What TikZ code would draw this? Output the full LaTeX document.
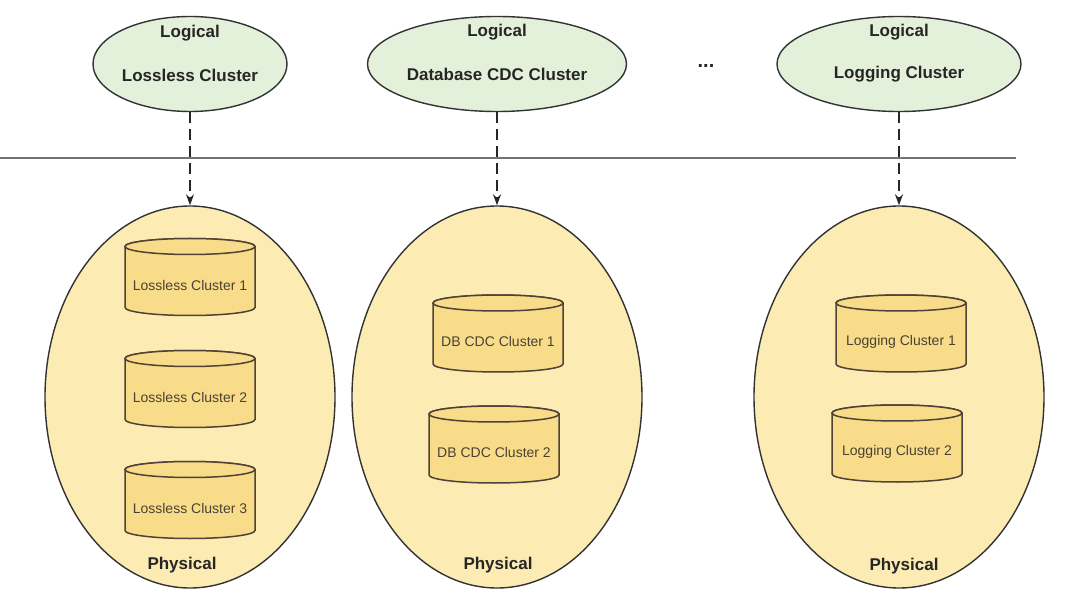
\documentclass[tikz,border=0pt]{standalone}
\usepackage{fontspec}
\setmainfont{Liberation Sans}
\usetikzlibrary{shapes.geometric,arrows.meta}
\definecolor{logfill}{HTML}{E3F0DA}
\definecolor{phyfill}{HTML}{FCEBB2}
\definecolor{cylfill}{HTML}{F8DC8A}
\definecolor{edge}{HTML}{333333}
\definecolor{cyltxt}{HTML}{4A4233}
\tikzset{
  logical/.style={ellipse, draw=edge, line width=1.4pt, fill=logfill, inner sep=0pt},
  physical/.style={ellipse, draw=edge, line width=1.4pt, fill=phyfill, inner sep=0pt, minimum width=290pt, minimum height=382pt},
  boldlbl/.style={font=\fontsize{17pt}{20pt}\selectfont\bfseries, text=black!85},
  cylbody/.style={fill=cylfill, draw=edge!80!brown, line width=1.5pt},
  cyltext/.style={font=\fontsize{14pt}{16pt}\selectfont, text=cyltxt, inner sep=0pt},
  dasharrow/.style={draw=black!85, line width=1.3pt, dash pattern=on 11pt off 6pt, -{Stealth[length=11pt,width=8pt]}},
}
\newcommand\mycyl[4]{% name, center x, center y, text
  \filldraw[cylbody] (#2-65,#3+30.5) -- (#2-65,#3-30.5)
    arc[start angle=180,end angle=360,x radius=65,y radius=8]
    -- (#2+65,#3+30.5)
    arc[start angle=0,end angle=180,x radius=65,y radius=8] -- cycle;
  \draw[cylbody] (#2,#3+30.5) ellipse[x radius=65,y radius=8];
  \node[cyltext] (#1) at (#2,#3-8) {#4};
}
\begin{document}
\begin{tikzpicture}[x=1pt,y=1pt]
\useasboundingbox (0,0) rectangle (1082,-612);
\fill[white] (0,0) rectangle (1082,-612);

% separator line
\coordinate (sepL) at (0,-158);
\coordinate (sepR) at (1016,-158);
\draw[line width=1.1pt, draw=black!55] (sepL) -- (sepR);

% logical ellipses
\node[logical, minimum width=194pt, minimum height=95pt] (lg1) at (190,-64) {};
\node[logical, minimum width=259pt, minimum height=95pt] (lg2) at (497,-64) {};
\node[logical, minimum width=244pt, minimum height=95pt] (lg3) at (899,-64) {};
\node[boldlbl] (lg1a) at (190,-33) {Logical};
\node[boldlbl] (lg1b) at (190,-75) {Lossless Cluster};
\node[boldlbl] (lg2a) at (497,-32) {Logical};
\node[boldlbl] (lg2b) at (497,-74) {Database CDC Cluster};
\node[boldlbl] (lg3a) at (899,-32) {Logical};
\node[boldlbl] (lg3b) at (899,-74) {Logging Cluster};
\node[font=\fontsize{20pt}{22pt}\selectfont\bfseries, text=black!85] (dots) at (706,-66) {...};

% physical ellipses
\node[physical] (ph1) at (190,-397) {};
\node[physical] (ph2) at (497,-397) {};
\node[physical] (ph3) at (899,-397) {};

% cylinders
\mycyl{c11}{190}{-277}{Lossless Cluster 1}
\mycyl{c12}{190}{-389}{Lossless Cluster 2}
\mycyl{c13}{190}{-500}{Lossless Cluster 3}
\mycyl{c21}{498}{-333.5}{DB CDC Cluster 1}
\mycyl{c22}{494}{-444.5}{DB CDC Cluster 2}
\mycyl{c31}{901}{-333.5}{Logging Cluster 1}
\mycyl{c32}{897}{-443.5}{Logging Cluster 2}

% physical labels
\node[boldlbl] (p1) at (182,-565) {Physical};
\node[boldlbl] (p2) at (498,-565) {Physical};
\node[boldlbl] (p3) at (904,-566) {Physical};

% arrows
\draw[dasharrow] (lg1.south) -- (ph1.north);
\draw[dasharrow] (lg2.south) -- (ph2.north);
\draw[dasharrow] (lg3.south) -- (ph3.north);
\end{tikzpicture}
\end{document}
